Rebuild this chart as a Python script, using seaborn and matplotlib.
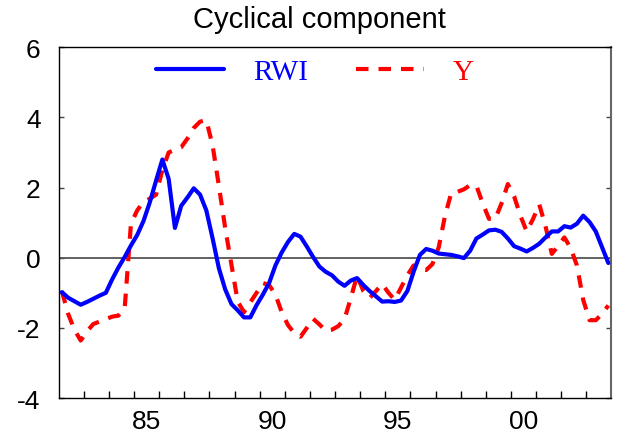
import numpy as np
import pandas as pd
import seaborn as sns
import matplotlib
matplotlib.use('Agg')
import matplotlib.pyplot as plt

#region 1. Data (quarterly cyclical components, 1982Q1 - 2003Q4)
start_year = 1982
n_quarters = 88

rwi = [-0.98, -1.14, -1.24, -1.34, -1.26, -1.17, -1.08, -1.00,
       -0.62, -0.28, 0.02, 0.35, 0.65, 1.05, 1.58, 2.20,
       2.80, 2.25, 0.85, 1.48, 1.72, 1.98, 1.80, 1.35,
       0.55, -0.30, -0.90, -1.32, -1.50, -1.70, -1.70, -1.35,
       -1.05, -0.72, -0.22, 0.15, 0.45, 0.68, 0.60, 0.32,
       0.02, -0.25, -0.40, -0.50, -0.68, -0.80, -0.65, -0.58,
       -0.78, -0.95, -1.10, -1.25, -1.24, -1.26, -1.22, -0.95,
       -0.40, 0.08, 0.25, 0.20, 0.12, 0.10, 0.08, 0.04,
       -0.01, 0.20, 0.55, 0.66, 0.78, 0.80, 0.74, 0.55,
       0.33, 0.26, 0.18, 0.28, 0.40, 0.58, 0.75, 0.75,
       0.90, 0.86, 0.97, 1.20, 1.02, 0.75, 0.30, -0.15]

y_gdp = [-0.95, -1.60, -2.05, -2.36, -2.10, -1.89, -1.82, -1.75,
         -1.68, -1.65, -1.45, 0.97, 1.35, 1.60, 1.68, 1.80,
         2.50, 3.00, 3.08, 3.15, 3.40, 3.70, 3.88, 3.92,
         3.20, 2.05, 0.85, -0.20, -1.25, -1.55, -1.27, -1.00,
         -0.72, -0.78, -1.05, -1.55, -1.92, -2.15, -2.25, -2.00,
         -1.74, -1.90, -2.08, -2.05, -1.95, -1.75, -1.15, -0.51,
         -0.95, -1.15, -0.95, -0.75, -1.00, -1.20, -0.85, -0.50,
         -0.22, -0.32, -0.35, -0.18, 0.30, 1.20, 1.85, 1.88,
         1.95, 2.07, 2.05, 1.55, 1.11, 1.11, 1.55, 2.10,
         1.75, 1.20, 0.75, 1.10, 1.52, 0.90, 0.11, 0.33,
         0.58, 0.28, -0.22, -1.20, -1.78, -1.78, -1.60, -1.36]

year_ticks = list(range(1983, 2004))
label_years = [1985, 1990, 1995, 2000]
label_text = ['85', '90', '95', '00']
y_ticks = [-4, -2, 0, 2, 4, 6]

# mid-quarter position of each observation
t = start_year + (np.arange(n_quarters) + 0.5) / 4
df = pd.DataFrame({'t': t, 'RWI': rwi, 'Y': y_gdp})
#endregion

#region 2. Plot
sns.set_style('ticks')
plt.rcParams['font.family'] = ['Liberation Sans', 'DejaVu Sans']
plt.rcParams['axes.unicode_minus'] = False
plt.rcParams['text.color'] = 'black'
plt.rcParams['xtick.color'] = 'black'
plt.rcParams['ytick.color'] = 'black'
plt.rcParams['xtick.labelcolor'] = 'black'
plt.rcParams['ytick.labelcolor'] = 'black'

fig = plt.figure(figsize=(6.26, 4.39), dpi=100)
ax = fig.add_axes([0.0938, 0.091, 0.883, 0.799])

ax.axhline(0, color='#555555', lw=1.3, zorder=1)
sns.lineplot(data=df, x='t', y='RWI', color='blue', lw=3, ax=ax, label='RWI', zorder=3)
sns.lineplot(data=df, x='t', y='Y', color='red', lw=3, ax=ax, label='Y',
             linestyle=(0, (3, 2.4)), zorder=2)

ax.set_xlim(1982, 2004)
ax.set_ylim(-4, 6)
ax.set_xlabel('')
ax.set_ylabel('')

ax.set_xticks(year_ticks)
ax.set_xticklabels([])
ax.set_xticks([y + 0.5 for y in label_years], minor=True)
ax.set_xticklabels(label_text, minor=True)
ax.tick_params(axis='x', which='major', direction='in', length=5, width=1, color='black')
ax.tick_params(axis='x', which='minor', length=0, pad=8, labelsize=19, labelcolor='black')

ax.set_yticks(y_ticks)
ax.tick_params(axis='y', direction='in', length=3.5, width=1, left=True, right=True,
               pad=13, labelsize=19, color='#444444', labelcolor='black')

for side in ['left', 'right', 'top', 'bottom']:
    ax.spines[side].set_visible(True)
    ax.spines[side].set_linewidth(1.0)
    ax.spines[side].set_color('black')
ax.spines['right'].set_color('#666666')
ax.spines['right'].set_linewidth(1.5)

leg = ax.legend(loc='center', bbox_to_anchor=(0.4635, 0.93), ncol=2, frameon=False,
                handlelength=2.33, handletextpad=1.0, columnspacing=1.65,
                prop={'family': 'Liberation Serif', 'size': 21}, labelcolor='linecolor')

fig.suptitle('Cyclical component', x=0.51, y=0.954, va='center', fontsize=21, color='black')

fig.savefig('out.png', dpi=100)
#endregion
